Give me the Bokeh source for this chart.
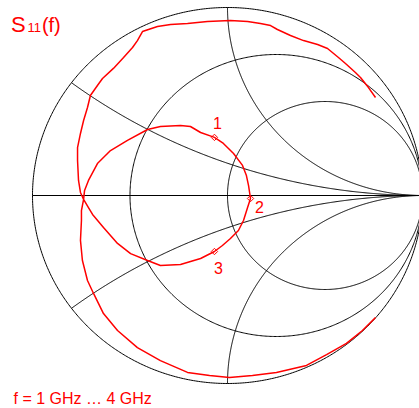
import numpy as np
from bokeh.plotting import figure
from bokeh.models import Range1d, Label
from bokeh.core.properties import value
from bokeh.embed import file_html
from bokeh.resources import INLINE

# ---- data: S11 trace (reflection coefficient Gamma) ----
s11_re = [0.759, 0.723, 0.682, 0.656, 0.605, 0.569, 0.513, 0.462, 0.390, 0.323,
          0.256, 0.221, 0.169, 0.103, 0.015, -0.103, -0.205, -0.292, -0.359, -0.436,
          -0.462, -0.487, -0.533, -0.585, -0.641, -0.667, -0.703, -0.718, -0.738, -0.754,
          -0.769, -0.769, -0.764, -0.754, -0.738, -0.713, -0.692, -0.636, -0.564, -0.497,
          -0.410, -0.344, -0.241, -0.138, -0.067, -0.026, 0.015, 0.056, 0.082, 0.103,
          0.118, 0.108, 0.097, 0.077, 0.031, -0.021, -0.067, -0.138, -0.190, -0.241,
          -0.344, -0.410, -0.513, -0.600, -0.667, -0.713, -0.733, -0.738, -0.749, -0.749,
          -0.754, -0.744, -0.718, -0.687, -0.636, -0.564, -0.462, -0.344, -0.205, -0.092,
          0.010, 0.128, 0.251, 0.405, 0.508, 0.610, 0.692, 0.759]
s11_im = [0.521, 0.574, 0.628, 0.654, 0.702, 0.734, 0.782, 0.803, 0.824, 0.851,
          0.883, 0.904, 0.915, 0.926, 0.931, 0.926, 0.915, 0.910, 0.899, 0.872,
          0.824, 0.787, 0.734, 0.676, 0.622, 0.585, 0.532, 0.468, 0.399, 0.330,
          0.255, 0.186, 0.080, 0.016, -0.021, -0.064, -0.101, -0.170, -0.255, -0.309,
          -0.346, -0.372, -0.367, -0.335, -0.298, -0.266, -0.229, -0.186, -0.133, -0.064,
          -0.016, 0.053, 0.106, 0.160, 0.223, 0.277, 0.309, 0.335, 0.367, 0.372,
          0.367, 0.351, 0.293, 0.239, 0.170, 0.080, 0.027, -0.021, -0.080, -0.133,
          -0.239, -0.346, -0.452, -0.521, -0.628, -0.718, -0.809, -0.878, -0.941, -0.957,
          -0.968, -0.957, -0.941, -0.904, -0.846, -0.787, -0.718, -0.649]

marker_re = [-0.067, 0.118, -0.067]
marker_im = [0.309, -0.016, -0.298]
marker_labels = ["1", "2", "3"]

# Smith chart grid
resistance_values = [0.0, 1.0 / 3.0, 1.0]
reactance_values = [1.0 / 3.0, 1.0]

title_main = "S"
title_sub = "11"
title_tail = "(f)"
freq_text = "f = 1 GHz \u2026 4 GHz"

RED = "#ff0000"
FONT = "Liberation Sans"

# ---- figure geometry ----
W, H = 419, 408
x0, x1 = (0 - 227) / 195.0, (W - 227) / 195.0
y0, y1 = (195 - H) / 188.0, (195 - 0) / 188.0


def X(px):
    return x0 + px / W * (x1 - x0)


def Y(py):
    return y1 - py / H * (y1 - y0)


p = figure(width=W, height=H, output_backend="svg", toolbar_location=None,
           x_range=Range1d(x0, x1), y_range=Range1d(y0, y1),
           x_axis_location=None, y_axis_location=None, min_border=0,
           outline_line_color=None, background_fill_color="white",
           border_fill_color="white")
p.grid.visible = False

xs, ys = [], []
t = np.linspace(0, 2 * np.pi, 721)
for r in resistance_values:
    c = r / (1 + r)
    rad = 1 / (1 + r)
    xs.append(list(c + rad * np.cos(t)))
    ys.append(list(rad * np.sin(t)))

for xv in reactance_values:
    for s in (1, -1):
        cy = s / xv
        rad = 1 / xv
        g = (1j * s * xv - 1) / (1j * s * xv + 1)
        a0 = np.arctan2(g.imag - cy, g.real - 1)
        a1 = np.arctan2(-cy, 0.0)
        while a1 - a0 > np.pi:
            a1 -= 2 * np.pi
        while a0 - a1 > np.pi:
            a1 += 2 * np.pi
        a = np.linspace(a0, a1, 400)
        xs.append(list(1 + rad * np.cos(a)))
        ys.append(list(cy + rad * np.sin(a)))

xs.append([-1.0, 1.0])
ys.append([0.0, 0.0])

p.multi_line(xs, ys, line_color="black", line_width=1)

p.line(s11_re, s11_im, line_color=RED, line_width=1.5)
p.scatter(marker_re, marker_im, marker="square", angle=np.pi / 4, size=4.5,
          fill_color=None, line_color=RED, line_width=1)
p.text(x=marker_re, y=marker_im, text=marker_labels,
       x_offset=[3, 9, 4], y_offset=[-14, 8, 16],
       text_align="center", text_baseline="middle",
       text_color=RED, text_font=value(FONT), text_font_size="16px")

p.add_layout(Label(x=X(10.5), y=Y(24.0), text=title_main, text_font=FONT,
                   text_font_size="22px", text_color=RED, text_baseline="middle"))
p.add_layout(Label(x=X(27), y=Y(27.3), text=title_sub, text_font=FONT,
                   text_font_size="13px", text_color=RED, text_baseline="middle"))
p.add_layout(Label(x=X(41.4), y=Y(24.6), text=title_tail, text_font=FONT,
                   text_font_size="20px", text_color=RED, text_baseline="middle"))
p.add_layout(Label(x=X(13), y=Y(398.3), text=freq_text, text_font=FONT,
                   text_font_size="16px", text_color=RED, text_baseline="middle"))

open("out.html", "w").write(file_html(p, INLINE))
